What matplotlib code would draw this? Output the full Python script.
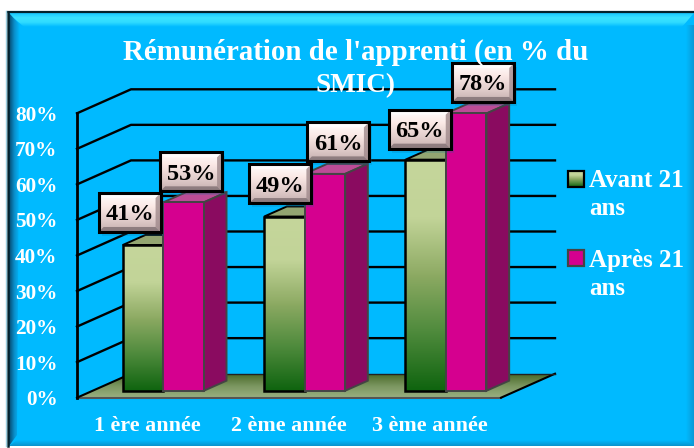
import numpy as np
import matplotlib
matplotlib.use('Agg')
import matplotlib.pyplot as plt
from matplotlib.colors import LinearSegmentedColormap
from matplotlib.patches import Polygon, Rectangle

categories = ['1 ère année', '2 ème année', '3 ème année']
avant = [41, 49, 65]
apres = [53, 61, 78]
y_ticks = [0, 10, 20, 30, 40, 50, 60, 70, 80]
title = "Rémunération de l'apprenti (en % du\nSMIC)"
legend_labels = ['Avant 21\nans', 'Après 21\nans']

W, H = 694, 448
BG = '#00BAFF'
FONT = 'Liberation Serif'

# axis scale in pixels, the axes are larger than the 0-80 box so nothing gets clipped
PX_CAT = 424 / 3
PX_PCT = 3.555
X_MAX = 3.5
Y_MAX = 105

# depth of the fake 3d box, in axis units (54 px right, 24 px up)
DX = 54 / PX_CAT
DY = 24 / PX_PCT
BAR_W = 40.5 / PX_CAT
BAR_D0, BAR_D1 = 0.29, 0.71

green_cm = LinearSegmentedColormap.from_list('g', ['#C5D69B', '#C2D498', '#8DAA63', '#4E8A3C', '#0F640F'])
floor_cm = LinearSegmentedColormap.from_list('f', ['#4A6A2A', '#7B9660', '#9AB081'])
box_cm = LinearSegmentedColormap.from_list('b', ['#FFFFFF', '#FBE9E6', '#E3CFCD', '#C4AEAE'])
top_band_cm = LinearSegmentedColormap.from_list('t', ['#18C8FF', '#3AE2FF', '#30DCFF', BG])
bottom_band_cm = LinearSegmentedColormap.from_list('d', [BG, '#0A93CC'])
right_band_cm = LinearSegmentedColormap.from_list('r', [BG, '#0A9AD6'])
left_band_cm = LinearSegmentedColormap.from_list('l', ['#064A70', '#0A8FCC', BG])

fig = plt.figure(figsize=(W / 100, H / 100), dpi=100, facecolor='white')

# frame, in pixels
bg = fig.add_axes([0, 0, 1, 1])
bg.axis('off')
bg.add_patch(Rectangle((8, 12), W - 8, H - 14, fc=BG, ec='none', zorder=-1))


def band(cm, extent, horizontal, poly):
    data = np.linspace(0, 1, 32)[None, :] if horizontal else np.linspace(0, 1, 32)[:, None]
    im = bg.imshow(data, cmap=cm, aspect='auto', extent=extent, origin='upper', zorder=0)
    clip = Polygon(poly, transform=bg.transData, fc='none', ec='none')
    bg.add_patch(clip)
    im.set_clip_path(clip)


band(top_band_cm, [8, W, 27, 13], False, [(8, 13), (W, 13), (W - 12, 27), (24, 27)])
band(left_band_cm, [9, 20, 446, 12], True, [(9, 13), (20, 25), (17, 435), (9, 446)])
band(bottom_band_cm, [9, W, 446, 440], False, [(9, 446), (17, 440), (W, 440), (W, 446)])
band(right_band_cm, [686, W, 446, 25], True, [(W, 13), (W - 8, 25), (W - 8, 440), (W, 446)])
bg.plot([8.5, W], [12.5, 12.5], color='#04222C', lw=1.6)
bg.plot([8.5, 8.5], [12.5, 446], color='#04222C', lw=1.8)
bg.plot([6.5, 6.5], [11, 446], color='#9CCFE0', lw=1)
bg.set_xlim(0, W)
bg.set_ylim(H, 0)

ax = fig.add_axes([77 / W, 1 - 397.7 / H, X_MAX * PX_CAT / W, Y_MAX * PX_PCT / H])
ax.patch.set_alpha(0)
for s in ax.spines.values():
    s.set_visible(False)


def shift(x, y, d):
    return x + d * DX, y + d * DY


def grad(poly, cm, top, bottom, z):
    """Vertical gradient clipped to a polygon"""
    xs = [p[0] for p in poly]
    im = ax.imshow(np.linspace(0, 1, 128)[:, None], cmap=cm, aspect='auto', origin='upper',
                   extent=[min(xs), max(xs), bottom, top], zorder=z)
    clip = Polygon(poly, transform=ax.transData, fc='none', ec='none')
    ax.add_patch(clip)
    im.set_clip_path(clip)


# floor
floor = [shift(0, 0, 0), shift(3, 0, 0), shift(3, 0, 1), shift(0, 0, 1)]
grad(floor, floor_cm, DY, 0, 1)
ax.plot([0, 3], [0, 0], color='#555555', lw=1.5, zorder=2, clip_on=False)
ax.plot(*zip(shift(3, 0, 0), shift(3, 0, 1)), color='black', lw=1.5, zorder=2, clip_on=False)

# walls, gridlines go round the left wall then along the back
for v in y_ticks:
    x0, y0 = shift(0, v, 0)
    x1, y1 = shift(0, v, 1)
    x2, y2 = shift(3, v, 1)
    if v == 0:
        ax.plot([x0, x1], [y0, y1], color='black', lw=1.5, zorder=2, clip_on=False)
        ax.plot([x1, x2], [y1, y2], color='#222222', lw=1, zorder=2, clip_on=False)
    else:
        ax.plot([x0, x1, x2], [y0, y1, y2], color='black', lw=1.7, zorder=2, clip_on=False)
ax.plot([0, 0], [0, 80], color='black', lw=2, zorder=2, clip_on=False)


def bar(x, v, front, top_c, side_c, edge, z):
    x0, y0 = shift(x, 0, BAR_D0)
    x1 = x0 + BAR_W
    y1 = y0 + v
    ddx = (BAR_D1 - BAR_D0) * DX
    ddy = (BAR_D1 - BAR_D0) * DY
    ax.add_patch(Polygon([(x0, y1), (x1, y1), (x1 + ddx, y1 + ddy), (x0 + ddx, y1 + ddy)],
                         fc=top_c, ec=edge, lw=1.4, zorder=z))
    ax.add_patch(Polygon([(x1, y0), (x1 + ddx, y0 + ddy), (x1 + ddx, y1 + ddy), (x1, y1)],
                         fc=side_c, ec=edge, lw=1.4, zorder=z))
    rect = [(x0, y0), (x1, y0), (x1, y1), (x0, y1)]
    if front is None:
        grad(rect, green_cm, y1, y0, z + 0.1)
        ax.add_patch(Rectangle((x0, y0), BAR_W, v, fc='none', ec=edge, lw=1.8, zorder=z + 0.2))
    else:
        ax.add_patch(Rectangle((x0, y0), BAR_W, v, fc=front, ec=edge, lw=1.4, zorder=z + 0.2))


for i in range(len(categories)):
    left = i + 0.5 - BAR_W
    bar(left, avant[i], None, '#93A571', '#93A571', 'black', 3 + i)
    bar(left + BAR_W, apres[i], '#D5008F', '#BC4C96', '#8A0B60', '#444444', 3.5 + i)

# data labels: pixel offsets of the label box centre from the top of the front face
label_offsets = [(-13.5, 32.5), (7.5, 30.5), (-4, 33), (13, 32), (-6, 30.5), (17, 31)]
BOX_W, BOX_H = 62, 39
px_x = 1 / PX_CAT
px_y = 1 / PX_PCT
bars = []
for i in range(len(categories)):
    bars.append((i + 0.5 + BAR_D0 * DX - BAR_W / 2, avant[i]))
    bars.append((i + 0.5 + BAR_D0 * DX + BAR_W / 2, apres[i]))
for (bx, v), (ox, oy) in zip(bars, label_offsets):
    cx = bx + ox * px_x
    cy = v + BAR_D0 * DY + oy * px_y
    hw, hh = BOX_W / 2 * px_x, BOX_H / 2 * px_y
    bw, bh = 5 * px_x, 5 * px_y
    l, r, t, u = cx - hw, cx + hw, cy + hh, cy - hh
    z = 20
    ax.add_patch(Rectangle((l + 3 * px_x, u - 4 * px_y), 2 * hw, 2 * hh, fc='#0070A0', alpha=0.2, ec='none', zorder=z - 1))
    grad([(l, u), (r, u), (r, t), (l, t)], box_cm, t, u, z)
    ax.add_patch(Polygon([(l, t), (r, t), (r - bw, t - bh), (l + bw, t - bh)], fc='#FFFFFF', ec='none', alpha=0.75, zorder=z + 0.1))
    ax.add_patch(Polygon([(r, t), (r, u), (r - bw, u + bh), (r - bw, t - bh)], fc='#A08A8C', ec='none', alpha=0.8, zorder=z + 0.1))
    ax.add_patch(Polygon([(l, u), (r, u), (r - bw, u + bh), (l + bw, u + bh)], fc='#7F6F72', ec='none', alpha=0.8, zorder=z + 0.1))
    ax.add_patch(Rectangle((l, u), 2 * hw, 2 * hh, fc='none', ec='black', lw=2.2, zorder=z + 0.2))
    ax.text(cx, cy, f'{v}%', ha='center', va='center_baseline', fontsize=17.5, fontweight='bold',
            family=FONT, color='black', zorder=z + 0.3)

ax.set_xlim(0, X_MAX)
ax.set_ylim(0, Y_MAX)
ax.set_yticks(y_ticks)
ax.set_yticklabels([f'{v}%' for v in y_ticks], family=FONT, fontsize=15.3, fontweight='bold', color='white')
ax.set_xticks([i + 0.5 for i in range(len(categories))])
ax.set_xticklabels(categories, family=FONT, fontsize=15.8, fontweight='bold', color='white')
ax.tick_params(axis='both', length=0)
ax.tick_params(axis='y', pad=14)
ax.tick_params(axis='x', pad=13)

# title sits over the chart
top = fig.add_axes([0, 0, 1, 1])
top.axis('off')
top.patch.set_alpha(0)
top.text(356, 52, title.split('\n')[0], ha='center', va='center', family=FONT, fontsize=20.9,
         fontweight='bold', color='white')
top.text(356, 86, title.split('\n')[1], ha='center', va='center', family=FONT, fontsize=19.5,
         fontweight='bold', color='white', zorder=1)

# legend
ly = [179, 258]
text_y = [169, 249]
top.imshow(np.linspace(0, 1, 64)[:, None], cmap=green_cm, aspect='auto', extent=[568, 584, ly[0] + 8, ly[0] - 8], zorder=5)
top.add_patch(Rectangle((568, ly[0] - 8), 16, 16, fc='none', ec='black', lw=1.6, zorder=6))
top.add_patch(Rectangle((568, ly[1] - 8), 16, 16, fc='#D5008F', ec='#444444', lw=1.6, zorder=6))
top.set_xlim(0, W)
top.set_ylim(H, 0)
for y, lab in zip(text_y, legend_labels):
    top.text(589, y, lab, ha='left', va='top', family=FONT, fontsize=18, fontweight='bold',
             color='white', linespacing=1.3)

fig.savefig('out.png', dpi=100)
plt.close(fig)
